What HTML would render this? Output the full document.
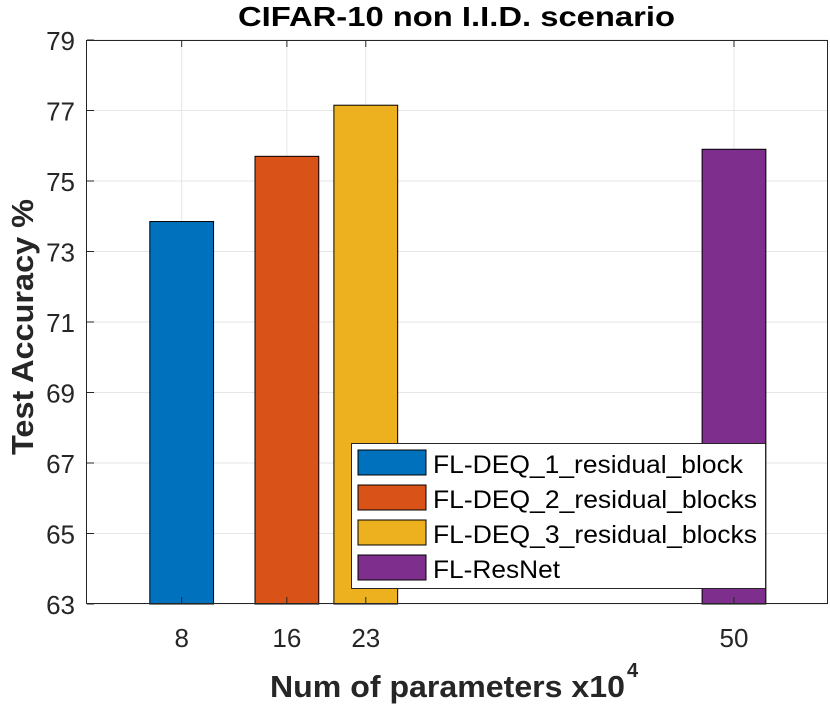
<!DOCTYPE html>
<html><head><meta charset="utf-8"><style>
body{margin:0;background:#fff}
svg text{font-family:"Liberation Sans",Arial,sans-serif}
</style></head><body>
<svg id="chart" width="830" height="705" xmlns="http://www.w3.org/2000/svg">
<rect width="830" height="705" fill="#fff"/>
<g id="grid"></g>
<g id="bars"></g>
<rect x="86.5" y="40.5" width="741" height="563" fill="none" stroke="#262626" stroke-width="1"/>
<g id="ticks"></g>
<text x="238" y="26" font-size="28" font-weight="bold" textLength="437" lengthAdjust="spacingAndGlyphs" fill="#000">CIFAR-10 non I.I.D. scenario</text>
<text transform="translate(33,455) rotate(-90)" font-size="31" font-weight="bold" textLength="256" lengthAdjust="spacingAndGlyphs" fill="#262626">Test Accuracy %</text>
<text x="270" y="697" font-size="31" font-weight="bold" textLength="355" lengthAdjust="spacingAndGlyphs" fill="#262626">Num of parameters x10</text>
<text x="627" y="677" font-size="20" font-weight="bold" fill="#262626">4</text>
<g>
<rect x="351.5" y="443.5" width="414" height="145" fill="#fff" stroke="#262626" stroke-width="1"/>
<g id="legend-items"></g>
</g>
</svg>
<script>
const categories=["FL-DEQ_1_residual_block","FL-DEQ_2_residual_blocks","FL-DEQ_3_residual_blocks","FL-ResNet"];
const xPositions=[8,16,22,50];
const xTickLabels=["8","16","23","50"];
const values=[73.85,75.7,77.15,75.9];
const yTicks=[63,65,67,69,71,73,75,77,79];
const legendWidths=[310,324,324,127];
const colors=["#0072BD","#D95319","#EDB120","#7E2F8E"];
const NS="http://www.w3.org/2000/svg";
const L=87,R=828,T=40,B=604,xMin=0.8,xMax=57.15,yMin=63,yMax=79;
const xs=v=>L+(v-xMin)/(xMax-xMin)*(R-L);
const ys=v=>B-(v-yMin)/(yMax-yMin)*(B-T);
function mk(tag,attrs,parent){const e=document.createElementNS(NS,tag);for(const k in attrs)e.setAttribute(k,attrs[k]);parent.appendChild(e);return e;}
const grid=document.getElementById('grid'),bars=document.getElementById('bars'),ticks=document.getElementById('ticks'),leg=document.getElementById('legend-items');
yTicks.forEach(t=>{
 const g=mk('line',{x1:L,x2:R,y1:ys(t),y2:ys(t),stroke:'#e6e6e6','stroke-width':1},grid);
 
 
 const tx=mk('text',{x:L-12,y:ys(t)+10,'font-size':26,'text-anchor':'end',fill:'#262626'},ticks);
 tx.textContent=t;
 
 
 mk('line',{x1:L,x2:L+7,y1:ys(t),y2:ys(t),stroke:'#262626'},ticks);
});
xPositions.forEach((p,i)=>{
 const g=mk('line',{x1:xs(p),x2:xs(p),y1:T,y2:B,stroke:'#e6e6e6','stroke-width':1},grid);
 
 
 const tx=mk('text',{x:xs(p),y:647,'font-size':26,'text-anchor':'middle',fill:'#262626'},ticks);
 tx.textContent=xTickLabels[i];
 
 
 mk('line',{x1:xs(p),x2:xs(p),y1:B,y2:B-7,stroke:'#262626'},ticks);
 mk('line',{x1:xs(p),x2:xs(p),y1:T,y2:T+7,stroke:'#262626'},ticks);
});
const bw=4.85;
values.forEach((v,i)=>{
 const x0=xs(xPositions[i]-bw/2),x1=xs(xPositions[i]+bw/2);
 const r=mk('rect',{x:x0,y:ys(v),width:x1-x0,height:B-ys(v),fill:colors[i],stroke:'#000','stroke-width':1},bars);
 
 
});
categories.forEach((c,i)=>{
 const y=450+i*35;
 const s=mk('rect',{x:358,y:y,width:68,height:25,fill:colors[i],stroke:'#000','stroke-width':1},leg);
 
 
 const t=mk('text',{x:433,y:y+23,'font-size':25,fill:'#000',textLength:legendWidths[i],lengthAdjust:'spacingAndGlyphs'},leg);
 t.textContent=c;
 
 
});
</script>
</body></html>
